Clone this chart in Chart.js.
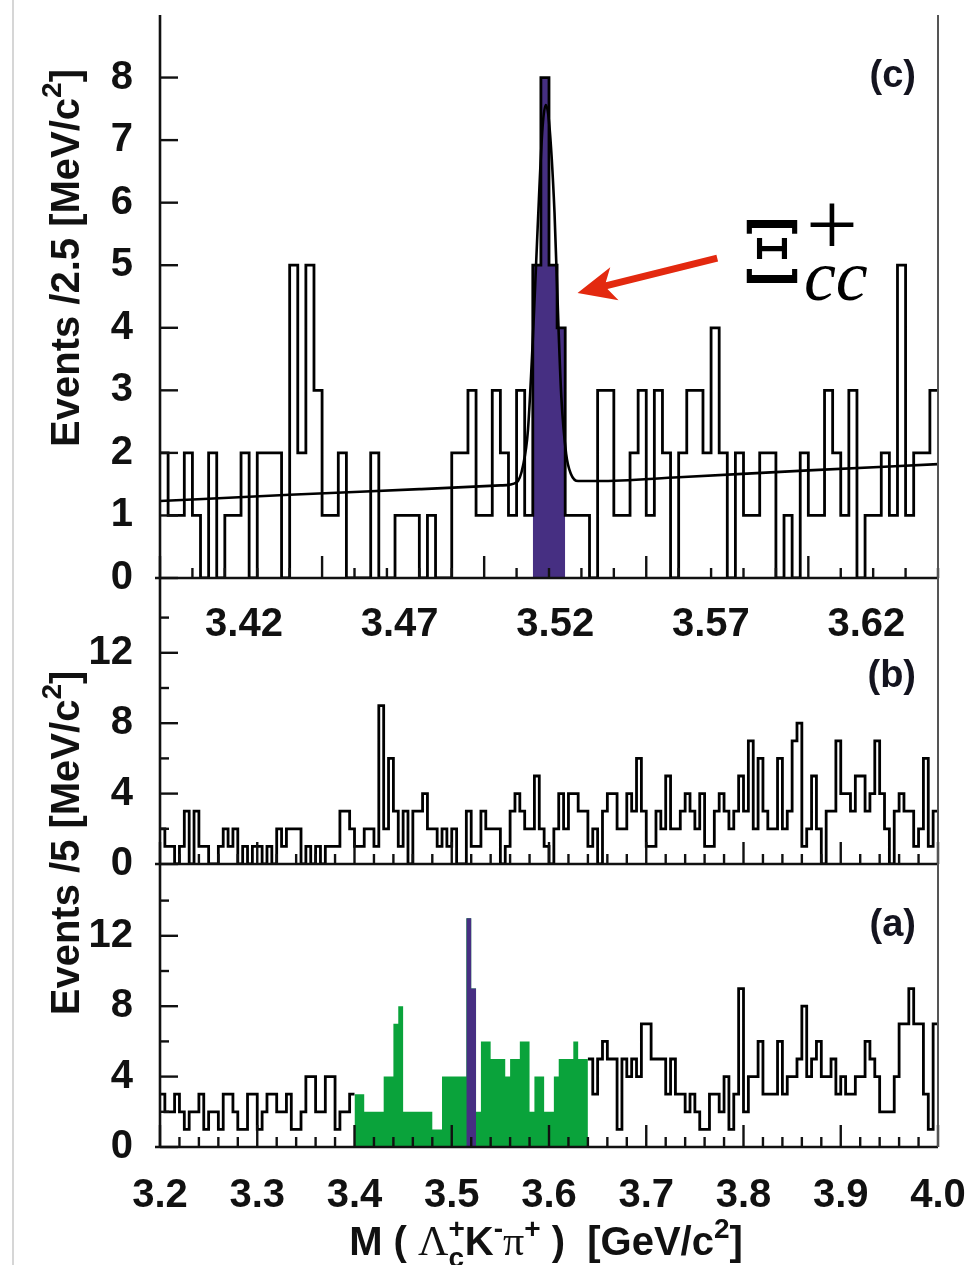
<!DOCTYPE html>
<html>
<head>
<meta charset="utf-8">
<title>Xi_cc+ mass spectra</title>
<script src="https://cdn.jsdelivr.net/npm/chart.js@4.4.1/dist/chart.umd.min.js"></script>
<style>
  body { margin: 0; background: #fff; }
  #page { position: relative; width: 973px; height: 1265px; overflow: hidden; background: #fff; }
  #page canvas { position: absolute; left: 0; }
  #edge { position: absolute; left: 12px; top: 0; width: 2px; height: 1265px; background: #d6d6d6; }
</style>
</head>
<body>
<div id="page">
  <div id="edge"></div>
  <canvas id="panelC" width="973" height="660" style="top:0px"></canvas>
  <canvas id="panelB" width="973" height="480" style="top:560px"></canvas>
  <canvas id="panelA" width="973" height="415" style="top:850px"></canvas>
</div>
<script>
// ---- panel (c): 2.5 MeV bins, 3.40 - 3.64 GeV ----
const topStart = 3.40;
const topBin = 0.0025;
const topCounts = [
  2, 1, 1, 2, 1, 0, 2, 0, 1, 1, 2, 0, 2, 2, 2, 0,
  5, 2, 5, 3, 1, 1, 2, 0, 0, 0, 2, 0, 0, 1, 1, 1,
  0, 1, 0, 0, 2, 2, 3, 1, 1, 3, 2, 1, 3, 1, 5, 8,
  5, 4, 1, 1, 1, 0, 3, 3, 1, 1, 2, 3, 1, 3, 2, 0,
  2, 3, 3, 2, 4, 2, 0, 2, 1, 1, 2, 2, 0, 1, 0, 2,
  1, 1, 3, 2, 1, 3, 0, 1, 1, 2, 1, 5, 1, 2, 2, 3
];
const topSignalRange = [3.515, 3.525];
// fitted curve
const fitMass   = [3.400, 3.440, 3.480, 3.505, 3.510, 3.512, 3.5135, 3.515, 3.5165, 3.518, 3.519, 3.520, 3.5217, 3.523, 3.5238, 3.5253, 3.5268, 3.529, 3.535, 3.560, 3.600, 3.640];
const fitEvents = [1.23, 1.33, 1.42, 1.48, 1.53, 1.80, 2.36, 3.80, 5.60, 7.20, 7.56, 7.30, 5.84, 3.90, 2.90, 1.98, 1.66, 1.55, 1.55, 1.61, 1.72, 1.82];
const topXLabels = [3.42, 3.47, 3.52, 3.57, 3.62];
const topYLabels = [0, 1, 2, 3, 4, 5, 6, 7, 8];

// ---- panels (b) and (a): 5 MeV bins, 3.2 - 4.0 GeV ----
const wideStart = 3.2;
const wideBin = 0.005;
const panelBCounts = [
  2, 1, 1, 0, 1, 3, 0, 3, 1, 1,
  0, 0, 1, 2, 1, 2, 0, 1, 0, 1,
  1, 0, 1, 0, 2, 1, 2, 2, 2, 0,
  1, 0, 1, 0, 1, 1, 1, 3, 3, 2,
  1, 1, 2, 2, 1, 9, 2, 6, 3, 1,
  3, 0, 3, 3, 4, 2, 2, 1, 2, 1,
  2, 0, 0, 3, 1, 1, 3, 2, 2, 2,
  0, 1, 3, 4, 3, 2, 2, 5, 2, 1,
  0, 2, 4, 2, 4, 4, 3, 3, 1, 2,
  0, 3, 4, 4, 2, 2, 4, 3, 6, 3,
  1, 1, 3, 2, 5, 2, 2, 3, 4, 3,
  2, 4, 1, 1, 3, 4, 3, 2, 3, 5,
  3, 7, 2, 6, 3, 2, 2, 6, 2, 3,
  7, 8, 1, 2, 5, 2, 0, 3, 3, 7,
  4, 4, 3, 5, 5, 3, 4, 7, 4, 2,
  0, 3, 4, 3, 3, 1, 2, 6, 1, 3
];
const panelACounts = [
  3, 2, 2, 3, 2, 1, 2, 2, 3, 1,
  2, 2, 1, 3, 3, 2, 1, 1, 3, 3,
  1, 2, 3, 3, 2, 2, 3, 1, 1, 2,
  4, 4, 2, 2, 4, 4, 1, 2, 2, 3,
  3, 3, 2, 2, 2, 2, 4, 4, 7, 8,
  2, 2, 2, 2, 2, 2, 1, 1, 4, 4,
  4, 4, 4, 13, 9, 2, 6, 6, 5, 5,
  5, 4, 5, 5, 6, 6, 2, 4, 4, 2,
  2, 4, 5, 5, 5, 6, 5, 5, 5, 3,
  5, 6, 5, 5, 1, 5, 4, 5, 4, 7,
  7, 5, 5, 5, 3, 5, 3, 3, 2, 3,
  2, 1, 1, 3, 3, 2, 4, 1, 3, 9,
  2, 4, 4, 6, 3, 3, 3, 6, 3, 4,
  4, 5, 8, 4, 5, 6, 4, 4, 5, 3,
  4, 3, 3, 4, 4, 6, 5, 4, 2, 2,
  2, 4, 7, 7, 9, 7, 7, 3, 1, 7
];
const greenRange = [3.40, 3.64];
const purpleRange = [3.515, 3.525];
const massLabels = [3.2, 3.3, 3.4, 3.5, 3.6, 3.7, 3.8, 3.9, 4.0];
const wideYLabels = [0, 4, 8, 12];

const INK = '#111';
const PURPLE = '#462f82';
const GREEN = '#0aa33b';
const RED = '#e3290f';
const SANS = "'Liberation Sans', Arial, sans-serif";
const SERIF = "'Liberation Serif', 'Times New Roman', serif";
const B40 = 'bold 40px ' + SANS;
const B28 = 'bold 28px ' + SANS;

Chart.defaults.font.family = SANS;
Chart.defaults.color = INK;

// bins -> step points (value holds until next edge), optionally limited to [lo, hi]
function hist(start, width, counts, lo, hi) {
  const pts = [];
  let last = null;
  counts.forEach((c, i) => {
    const x0 = +(start + i * width).toFixed(4);
    const x1 = +(start + (i + 1) * width).toFixed(4);
    if (lo !== undefined && (x0 < lo - 1e-9 || x1 > hi + 1e-9)) return;
    pts.push({x: x0, y: c});
    last = {x: x1, y: c};
  });
  if (last) pts.push(last);
  return pts;
}

function outline(data) {
  return {data, borderColor: '#000', borderWidth: 2.8, stepped: true, fill: false,
          pointRadius: 0, borderJoinStyle: 'miter', borderCapStyle: 'butt'};
}
function filled(data, color) {
  return {data, borderWidth: 0, borderColor: color, backgroundColor: color,
          stepped: true, fill: 'origin', pointRadius: 0};
}

// rich text with sub/superscripts; parts with hold:true do not advance
function rich(ctx, x, y, parts, angle, align) {
  ctx.save();
  ctx.translate(x, y);
  if (angle) ctx.rotate(angle);
  ctx.textBaseline = 'alphabetic';
  ctx.textAlign = 'left';
  let total = 0;
  for (const p of parts) {
    ctx.font = p.font;
    p.w = ctx.measureText(p.text).width;
    if (!p.hold) total += p.w;
  }
  let cx = align === 'center' ? -total / 2 : 0;
  for (const p of parts) {
    ctx.font = p.font;
    ctx.fillStyle = p.color || INK;
    ctx.fillText(p.text, cx + (p.dx || 0), p.dy || 0);
    if (!p.hold) cx += p.w;
  }
  ctx.restore();
}

function tag(ctx, text, x, y) {
  ctx.save();
  ctx.font = 'bold 38px ' + SANS;
  ctx.fillStyle = '#14141f';
  ctx.textAlign = 'right';
  ctx.textBaseline = 'middle';
  ctx.fillText(text, x, y);
  ctx.restore();
}

// axis frame with inward tick marks
function frameFor(spec) {
  return {
    id: 'frame',
    afterDatasetsDraw(chart) {
      const {ctx, chartArea: a} = chart;
      const xs = chart.scales.x, ys = chart.scales.y;
      const seg = (x1, y1, x2, y2) => { ctx.beginPath(); ctx.moveTo(x1, y1); ctx.lineTo(x2, y2); ctx.stroke(); };
      ctx.save();
      ctx.strokeStyle = INK;
      ctx.lineWidth = 2.4;
      const n = Math.round((xs.max - xs.min) / spec.xMinor);
      for (let i = 0; i <= n; i++) {
        const v = xs.min + i * spec.xMinor;
        const r = v / spec.xMajor;
        const len = Math.abs(r - Math.round(r)) < 1e-6 ? 22 : 10;
        const px = xs.getPixelForValue(v);
        seg(px, a.bottom, px, a.bottom - len);
      }
      for (const v of spec.yMajor) {
        const py = ys.getPixelForValue(v);
        seg(a.left, py, a.left + 18, py);
      }
      for (const v of spec.yMinor) {
        const py = ys.getPixelForValue(v);
        seg(a.left, py, a.left + 9, py);
      }
      ctx.lineWidth = 2.6;
      seg(a.left, a.top, a.left, a.bottom);
      seg(a.left - 5, a.bottom, a.right, a.bottom);
      ctx.strokeStyle = '#555';
      ctx.lineWidth = 2;
      seg(a.right, a.top, a.right, a.bottom);
      ctx.restore();
    }
  };
}

function yAxis(max, labels) {
  return {
    position: 'left', min: 0, max,
    grid: {display: false}, border: {display: false},
    afterFit: s => { s.width = 160; s.paddingTop = 0; s.paddingBottom = 0; },
    afterBuildTicks: s => { s.ticks = labels.map(v => ({value: v})); },
    ticks: {font: {size: 40, weight: 'bold'}, color: INK, padding: 19}
  };
}

function xAxis(min, max, labels, height, pad, digits) {
  return {
    type: 'linear', position: 'bottom', min, max,
    grid: {display: false}, border: {display: false},
    afterFit: s => { s.height = height; s.paddingLeft = 0; s.paddingRight = 0; },
    afterBuildTicks: s => { s.ticks = labels.map(v => ({value: v})); },
    ticks: {font: {size: 40, weight: 'bold'}, color: INK, padding: pad, maxRotation: 0,
            autoSkip: false, callback: v => v.toFixed(digits)}
  };
}

const base = {
  responsive: false, animation: false, devicePixelRatio: 1, events: [],
  plugins: {legend: {display: false}, tooltip: {enabled: false}}
};

// ---------------- panel (c) ----------------
const notesC = {
  id: 'notesC',
  afterDraw(chart) {
    const {ctx} = chart;
    const xs = chart.scales.x, ys = chart.scales.y;
    tag(ctx, '(c)', 916, 77);
    rich(ctx, 79, 258, [
      {text: 'Events /2.5 [MeV/c', font: B40},
      {text: '2', font: B28, dy: -18},
      {text: ']', font: B40}
    ], -Math.PI / 2, 'center');
    // red arrow pointing at the peak
    const x1 = xs.getPixelForValue(3.5719), y1 = ys.getPixelForValue(5.115);
    const x2 = xs.getPixelForValue(3.5288), y2 = ys.getPixelForValue(4.556);
    const ang = Math.atan2(y2 - y1, x2 - x1), len = Math.hypot(x2 - x1, y2 - y1);
    ctx.save();
    ctx.translate(x2, y2);
    ctx.rotate(ang);
    ctx.fillStyle = RED;
    ctx.beginPath();
    ctx.moveTo(0, 0);
    ctx.lineTo(-38, -17);
    ctx.lineTo(-30, -3.5);
    ctx.lineTo(-len, -3.5);
    ctx.lineTo(-len, 3.5);
    ctx.lineTo(-30, 3.5);
    ctx.lineTo(-38, 17);
    ctx.closePath();
    ctx.fill();
    ctx.restore();
    // Xi_cc^+ label
    const lx = xs.getPixelForValue(3.5795), ly = ys.getPixelForValue(4.72);
    ctx.save();
    ctx.fillStyle = '#000';
    ctx.textBaseline = 'alphabetic';
    ctx.translate(lx, ly);
    ctx.font = "86px 'DejaVu Serif', serif";
    ctx.fillText('Ξ', 0, 0);
    ctx.font = '92px ' + SERIF;
    ctx.fillText('+', 64, -28);
    ctx.font = 'italic 72px ' + SERIF;
    ctx.fillText('cc', 62, 17);
    ctx.restore();
  }
};

new Chart(document.getElementById('panelC'), {
  type: 'line',
  data: {
    datasets: [
      {data: fitMass.map((m, i) => ({x: m, y: fitEvents[i]})), borderColor: '#000', borderWidth: 2.6,
       pointRadius: 0, fill: false, cubicInterpolationMode: 'monotone'},
      outline(hist(topStart, topBin, topCounts)),
      filled(hist(topStart, topBin, topCounts, topSignalRange[0], topSignalRange[1]), PURPLE)
    ]
  },
  options: {
    ...base,
    layout: {padding: {top: 15, right: 35, bottom: 0, left: 0}},
    scales: {
      x: {type: 'linear', min: 3.40, max: 3.64, display: false},
      xl: xAxis(3.393, 3.643, topXLabels, 82, 15, 2),
      y: yAxis(9, topYLabels)
    }
  },
  plugins: [frameFor({xMinor: 0.01, xMajor: 0.05, yMajor: topYLabels, yMinor: []}), notesC]
});

// ---------------- panel (b) ----------------
const notesB = {
  id: 'notesB',
  afterDraw(chart) {
    const {ctx} = chart;
    tag(ctx, '(b)', 916, 117);
    rich(ctx, 79, 283, [
      {text: 'Events /5 [MeV/c', font: B40},
      {text: '2', font: B28, dy: -18},
      {text: ']', font: B40}
    ], -Math.PI / 2, 'center');
  }
};

new Chart(document.getElementById('panelB'), {
  type: 'line',
  data: {datasets: [outline(hist(wideStart, wideBin, panelBCounts))]},
  options: {
    ...base,
    layout: {padding: {top: 18, right: 35, bottom: 176, left: 0}},
    scales: {
      x: {type: 'linear', min: 3.2, max: 4.0, display: false},
      y: yAxis(16.25, wideYLabels)
    }
  },
  plugins: [frameFor({xMinor: 0.02, xMajor: 0.1, yMajor: wideYLabels, yMinor: [2, 6, 10, 14]}), notesB]
});

// ---------------- panel (a) ----------------
const notesA = {
  id: 'notesA',
  afterDraw(chart) {
    const {ctx} = chart;
    tag(ctx, '(a)', 916, 76);
    const big = B40, small = B28, greek = '42px ' + SERIF;
    rich(ctx, 546, 405, [
      {text: 'M ( ', font: big},
      {text: 'Λ', font: greek},
      {text: 'c', font: small, dy: 12, hold: true},
      {text: '+', font: small, dy: -17},
      {text: 'K', font: big},
      {text: '-', font: small, dy: -17},
      {text: 'π', font: greek},
      {text: '+', font: small, dy: -17},
      {text: ' )  [GeV/c', font: big},
      {text: '2', font: small, dy: -17},
      {text: ']', font: big}
    ], 0, 'center');
  }
};

new Chart(document.getElementById('panelA'), {
  type: 'line',
  data: {
    datasets: [
      filled(hist(wideStart, wideBin, panelACounts, purpleRange[0], purpleRange[1]), PURPLE),
      filled(hist(wideStart, wideBin, panelACounts, greenRange[0], greenRange[1]), GREEN),
      outline(hist(wideStart, wideBin, panelACounts, wideStart, greenRange[0])),
      outline(hist(wideStart, wideBin, panelACounts, greenRange[1], 4.0))
    ]
  },
  options: {
    ...base,
    layout: {padding: {top: 14, right: 35, bottom: 0, left: 0}},
    scales: {
      x: xAxis(3.2, 4.0, massLabels, 118, 17, 1),
      y: yAxis(16.08, wideYLabels)
    }
  },
  plugins: [frameFor({xMinor: 0.02, xMajor: 0.1, yMajor: wideYLabels, yMinor: [2, 6, 10, 14]}), notesA]
});
</script>
</body>
</html>
